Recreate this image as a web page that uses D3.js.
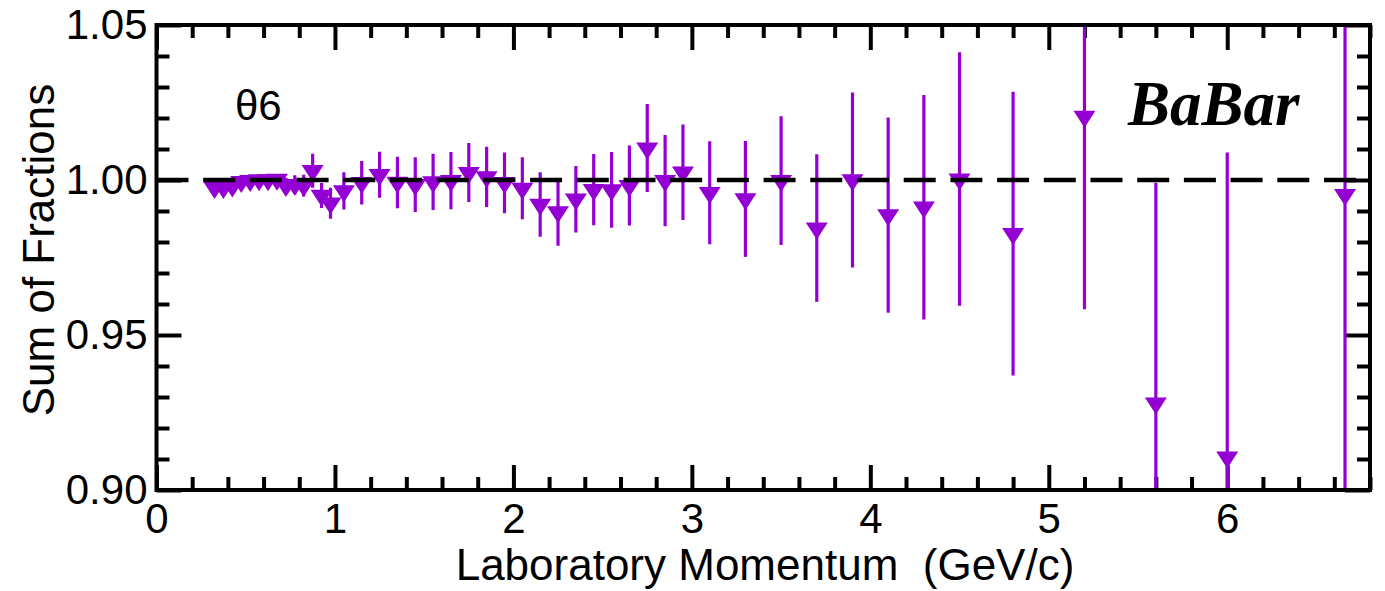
<!DOCTYPE html>
<html>
<head>
<meta charset="utf-8">
<script src="https://cdn.jsdelivr.net/npm/d3@7"></script>
<style>
  html, body { margin: 0; padding: 0; background: #fff; }
  svg { display: block; }
</style>
</head>
<body>
<svg id="chart" width="1385" height="591"></svg>
<script>
// Laboratory momentum bin centres (GeV/c)
const momentum = [
  0.325, 0.375, 0.425, 0.475, 0.525, 0.575, 0.625, 0.675, 0.725, 0.775,
  0.825, 0.875, 0.925, 0.975, 1.05, 1.15, 1.25, 1.35, 1.45, 1.55,
  1.65, 1.75, 1.85, 1.95, 2.05, 2.15, 2.25, 2.35, 2.45, 2.55,
  2.65, 2.75, 2.85, 2.95, 3.1, 3.3, 3.5, 3.7, 3.9, 4.1,
  4.3, 4.5, 4.8, 5.2, 5.6, 6.0, 6.66
];
// Sum of fractions in each bin
const sumFractions = [
  0.9975, 0.9975, 0.9980, 0.9995, 0.9998, 1.0000, 1.0000, 1.0002, 0.9982, 0.9985,
  0.9982, 1.0030, 0.9950, 0.9925, 0.9965, 0.9991, 1.0017, 0.9992, 0.9985, 0.9994,
  0.9998, 1.0024, 1.0010, 0.9991, 0.9973, 0.9921, 0.9897, 0.9938, 0.9969, 0.9968,
  0.9982, 1.0103, 0.9998, 1.0025, 0.9959, 0.9939, 0.9998, 0.9845, 1.0000, 0.9887,
  0.9912, 1.0003, 0.9827, 1.0205, 0.9280, 0.9106, 0.9953
];
// Symmetric uncertainty on each sum
const sumErrors = [
  0.0010, 0.0010, 0.0010, 0.0012, 0.0012, 0.0013, 0.0014, 0.0016, 0.0025, 0.0030,
  0.0035, 0.0055, 0.0040, 0.0050, 0.0060, 0.0070, 0.0074, 0.0083, 0.0088, 0.0091,
  0.0092, 0.0095, 0.0097, 0.0098, 0.0100, 0.0104, 0.0109, 0.0107, 0.0115, 0.0122,
  0.0129, 0.0142, 0.0147, 0.0154, 0.0166, 0.0187, 0.0208, 0.0238, 0.0282, 0.0315,
  0.0362, 0.0409, 0.0458, 0.0622, 0.0711, 0.0983, 0.1200
];
const xMajorTicks = [0, 1, 2, 3, 4, 5, 6];
const yMajorTicks = [0.90, 0.95, 1.00, 1.05];
const xTitle = "Laboratory Momentum  (GeV/c)";
const yTitle = "Sum of Fractions";
const panelLabel = "\u03B86";
const experiment = "BaBar";
const reference = 1.0;

(function () {
  const pl = 156.5, pr = 1370, pt = 25, pb = 490;
  const color = "#9400D3";
  const SANS = "'Liberation Sans', Arial, Helvetica, sans-serif";
  const SERIF = "'Liberation Serif', 'Times New Roman', Times, serif";

  const svg = d3.select("#chart");

  const x = d3.scaleLinear().domain([0, 6.8]).range([pl, pr]);
  const y = d3.scaleLinear().domain([0.90, 1.05]).range([pb, pt]);

  const xMinor = d3.range(0, 6.8001, 0.2).map(v => +v.toFixed(2))
    .filter(v => Math.abs(v - Math.round(v)) > 1e-6);
  const yMinor = d3.range(0.90, 1.0501, 0.01).map(v => +v.toFixed(3))
    .filter(v => !yMajorTicks.some(m => Math.abs(m - v) < 1e-6));

  const MAJ = 25, MIN = 13, AXW = 4;

  function styleAxis(g) {
    g.select(".domain").remove();
    g.selectAll(".tick line").attr("stroke", "#000").attr("stroke-width", AXW);
  }
  function styleText(g) {
    g.selectAll("text").style("font-size", "42px")
      .style("font-family", SANS).attr("fill", "#000");
  }

  // Bottom axis: major ticks with labels, minor ticks without
  svg.append("g").attr("transform", `translate(0,${pb})`)
    .call(d3.axisBottom(x).tickValues(xMajorTicks).tickSize(-MAJ).tickPadding(13).tickFormat(d3.format("d")))
    .call(styleAxis).call(styleText);
  svg.append("g").attr("transform", `translate(0,${pb})`)
    .call(d3.axisBottom(x).tickValues(xMinor).tickSize(-MIN).tickFormat(""))
    .call(styleAxis);

  // Top axis: ticks only
  svg.append("g").attr("transform", `translate(0,${pt})`)
    .call(d3.axisTop(x).tickValues(xMajorTicks).tickSize(-MAJ).tickFormat(""))
    .call(styleAxis);
  svg.append("g").attr("transform", `translate(0,${pt})`)
    .call(d3.axisTop(x).tickValues(xMinor).tickSize(-MIN).tickFormat(""))
    .call(styleAxis);

  // Left axis
  svg.append("g").attr("transform", `translate(${pl},0)`)
    .call(d3.axisLeft(y).tickValues(yMajorTicks).tickSize(-MAJ).tickPadding(9).tickFormat(d3.format(".2f")))
    .call(styleAxis).call(styleText);
  svg.append("g").attr("transform", `translate(${pl},0)`)
    .call(d3.axisLeft(y).tickValues(yMinor).tickSize(-MIN).tickFormat(""))
    .call(styleAxis);

  // Right axis
  svg.append("g").attr("transform", `translate(${pr},0)`)
    .call(d3.axisRight(y).tickValues(yMajorTicks).tickSize(-MAJ).tickFormat(""))
    .call(styleAxis);
  svg.append("g").attr("transform", `translate(${pr},0)`)
    .call(d3.axisRight(y).tickValues(yMinor).tickSize(-MIN).tickFormat(""))
    .call(styleAxis);

  // Data, clipped to the frame
  svg.append("clipPath").attr("id", "plotClip")
    .append("rect").attr("x", pl).attr("y", pt).attr("width", pr - pl).attr("height", pb - pt);

  const data = momentum.map((p, i) => ({ p, v: sumFractions[i], e: sumErrors[i] }));
  const plot = svg.append("g").attr("clip-path", "url(#plotClip)");

  plot.selectAll("line.err").data(data).join("line")
    .attr("class", "err")
    .attr("x1", d => x(d.p)).attr("x2", d => x(d.p))
    .attr("y1", d => y(d.v + d.e)).attr("y2", d => y(d.v - d.e))
    .attr("stroke", color).attr("stroke-width", 3.2);

  // Downward triangles with the centroid on the value
  const TW = 22, TH = 17;
  plot.selectAll("path.mk").data(data).join("path")
    .attr("class", "mk")
    .attr("d", d => {
      const cx = x(d.p), cy = y(d.v);
      const t = cy - TH / 3, b = cy + 2 * TH / 3;
      return `M${cx - TW / 2},${t}L${cx + TW / 2},${t}L${cx},${b}Z`;
    })
    .attr("fill", color);

  // Reference line at unity
  plot.append("line")
    .attr("x1", x(0)).attr("x2", pr)
    .attr("y1", y(reference)).attr("y2", y(reference))
    .attr("stroke", "#000").attr("stroke-width", 4.3)
    .attr("stroke-dasharray", "32,14.7");

  // Frame
  svg.append("rect").attr("x", pl).attr("y", pt)
    .attr("width", pr - pl).attr("height", pb - pt)
    .attr("fill", "none").attr("stroke", "#000").attr("stroke-width", AXW);

  // Titles
  svg.append("text").attr("x", 765).attr("y", 580).attr("text-anchor", "middle")
    .style("font-family", SANS).style("font-size", "44px").style("white-space", "pre")
    .attr("xml:space", "preserve").text(xTitle);
  svg.append("text").attr("transform", "translate(54,250) rotate(-90)").attr("text-anchor", "middle")
    .style("font-family", SANS).style("font-size", "44px").text(yTitle);

  svg.append("text").attr("x", 235).attr("y", 120)
    .style("font-family", SANS).style("font-size", "42px").text(panelLabel);
  svg.append("text").attr("x", 1128).attr("y", 125)
    .style("font-family", SERIF).style("font-weight", "bold").style("font-style", "italic")
    .style("font-size", "63px").text(experiment);
})();
</script>
</body>
</html>
